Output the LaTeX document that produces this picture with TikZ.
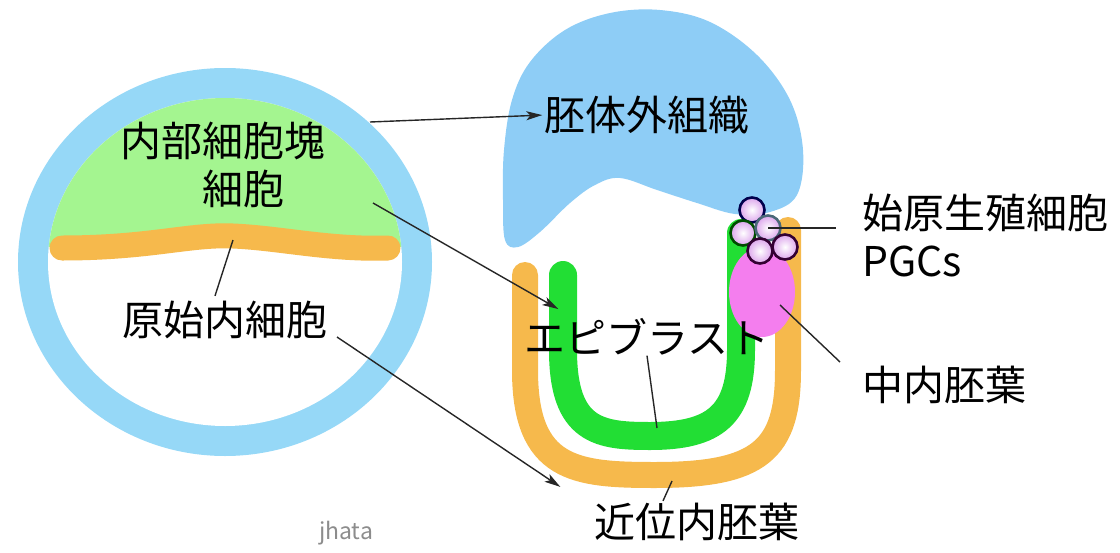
\documentclass[tikz,border=0pt]{standalone}
\usepackage{fontspec}
\setmainfont{Noto Sans CJK JP}
\usetikzlibrary{arrows.meta}
\definecolor{ringblue}{RGB}{150,216,247}
\definecolor{exeblue}{RGB}{142,205,246}
\definecolor{icmgreen}{RGB}{164,245,144}
\definecolor{peorange}{RGB}{246,185,76}
\definecolor{epigreen}{RGB}{34,222,52}
\definecolor{mepink}{RGB}{244,126,238}
\definecolor{pgcpink}{RGB}{220,165,236}
\tikzset{
x=1pt, y=-1pt, % one unit per pixel, y runs downwards
>={Stealth[length=16pt, width=9pt, inset=4pt]}, % makes the arrow heads bold
jtext/.style={font=\fontsize{41}{48}\selectfont, inner sep=0pt, align=center}, % every text label
leader/.style={black!85, line width=1.4pt}, % plain pointer lines
pointer/.style={leader, ->, shorten >=2pt}, % pointer lines with a head
layer/.style={line width=26pt, line cap=round}, % the bent cell layers
pgc/.style={circle, minimum size=25pt, inner sep=0pt, line width=2.6pt, inner color=white, outer color=pgcpink}, % germ cells
}

\begin{document}
\begin{tikzpicture}
  \useasboundingbox (0,0) rectangle (1120,552);

  % blastocyst
  \fill[ringblue] (225,262) ellipse [x radius=207, y radius=194];
  \fill[white] (225,262) ellipse [x radius=177, y radius=164];
  \begin{scope}
    \clip (225,262) ellipse [x radius=177, y radius=164];
    \fill[icmgreen] (0,0) rectangle (450,247);
  \end{scope}
  \draw[layer, peorange, line width=25pt] (62,248) .. controls (150,248) and (190,234) .. (233,236)
    .. controls (280,238) and (330,250) .. (388,248);

  % egg cylinder
  \fill[exeblue] plot[smooth cycle, tension=0.6] coordinates {(505,240) (503,200) (504,150) (512,100)
    (530,62) (565,30) (610,13) (660,10) (710,22) (757,55) (790,100) (803,150) (797,195) (770,212)
    (735,214) (697,203) (657,190) (620,178) (595,185) (570,203) (540,232) (518,247)};
  \draw[layer, peorange] (525,275) -- (525,370) .. controls (525,470) and (575,475) .. (655,475)
    .. controls (760,475) and (788,450) .. (788,370) -- (788,230);
  \draw[layer, epigreen, line width=28pt] (563,275) -- (563,350) .. controls (563,432) and (600,436) .. (650,436)
    .. controls (715,436) and (741,415) .. (741,350) -- (741,233);
  \fill[mepink] (762,292) ellipse [x radius=33, y radius=45];

  \node[pgc, draw=black!70!blue] (g1) at (752,210) {};
  \node[pgc, draw=black!70!green] (g2) at (743,233) {};
  \node[pgc, draw=black!60!cyan] (g3) at (768,228) {};
  \node[pgc, draw=black!60!violet] (g4) at (760,251) {};
  \node[pgc, draw=black!60!violet] (g5) at (785,247) {};

  % labels
  \node[jtext] (icm) at (223,165) {内部細胞塊\\\hspace*{1em}細胞};
  \node[jtext] (pe) at (225,320) {原始内細胞};
  \node[jtext] (exe) at (647,115) {胚体外組織};
  \node[jtext] (epi) at (647,337) {エピブラスト};
  \node[jtext] (ve) at (697,522) {近位内胚葉};
  \node[jtext, anchor=west, align=left] (pgcs) at (862,236) {始原生殖細胞\\PGCs};
  \node[jtext] (me) at (944,385) {中内胚葉};
  \node[font=\fontsize{23}{26}\selectfont, text=black!45, inner sep=0pt] (mark) at (346,533) {jhata};

  \coordinate (ringpt) at (370,122);
  \coordinate (icmpt) at (373,203);
  \coordinate (epitip) at (560,310);
  \coordinate (pept) at (337,337);
  \coordinate (vetip) at (562,488);
  \coordinate (pebend) at (233,240);
  \coordinate (epipt) at (657,428);
  \coordinate (vept) at (672,481);
  \coordinate (pgcend) at (836,228);
  \coordinate (mept) at (780,305);
  \coordinate (meend) at (840,362);

  \draw[pointer] (ringpt) -- (exe.west);
  \draw[pointer] (icmpt) -- (epitip);
  \draw[pointer] (pept) -- (vetip);
  \draw[leader] (pebend) -- ([shift={(-10,-5)}]pe.north);
  \draw[leader] (epi.south) -- (epipt);
  \draw[leader] (vept) -- ([shift={(-34,-2)}]ve.north);
  \draw[leader] (g3.center) -- (pgcend);
  \draw[leader] (mept) -- (meend);
\end{tikzpicture}
\end{document}
